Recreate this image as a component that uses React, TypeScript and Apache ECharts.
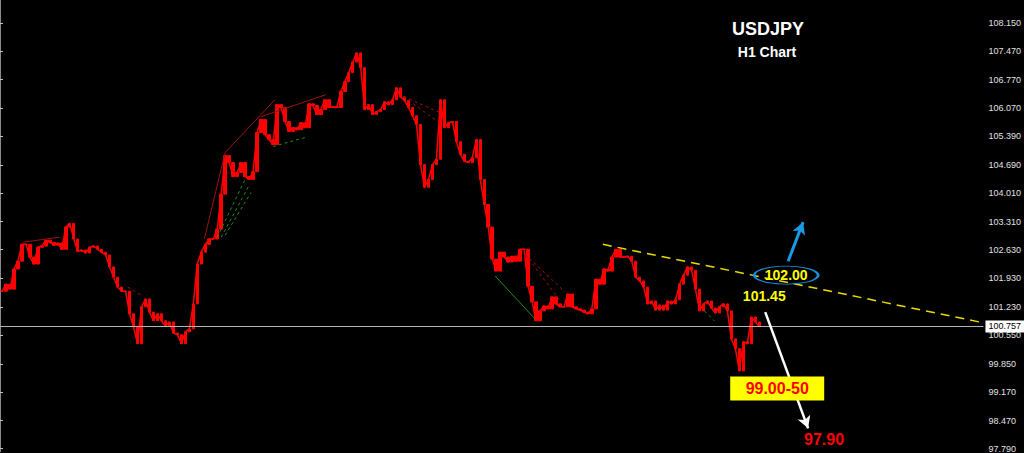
import React, { useEffect, useRef } from "react";
import * as echarts from "echarts";

// Right-axis tick labels (price)
const priceTicks = [108.15, 107.47, 106.77, 106.07, 105.39, 104.69, 104.01, 103.31, 102.63, 101.93, 101.23, 100.55, 99.85, 99.17, 98.47, 97.79];

// USDJPY H1 closes, one value per ~4 bars
const closes = [
  101.62, 101.79, 101.67, 102.16, 102.35, 102.76, 102.76, 102.45, 102.28, 102.69,
  102.72, 102.86, 102.81, 102.74, 102.79, 102.64, 103.18, 103.27, 102.89, 102.59,
  102.62, 102.55, 102.69, 102.72, 102.64, 102.57, 102.5, 102.21, 101.96, 101.72,
  101.62, 101.62, 101.07, 100.75, 100.34, 101.24, 101.43, 101.11, 100.9, 101.07,
  100.9, 100.77, 100.87, 100.6, 100.56, 100.34, 100.63, 100.7, 101.31, 102.28,
  102.57, 102.76, 102.89, 102.89, 103.13, 103.98, 104.92, 104.75, 104.41, 104.51,
  104.75, 104.41, 104.34, 104.53, 105.48, 105.8, 105.43, 105.31, 105.19, 106.16,
  106.09, 105.75, 105.51, 105.6, 105.55, 105.72, 105.6, 106.18, 106.14, 105.92,
  106.04, 106.28, 106.09, 106.11, 106.09, 106.48, 106.72, 106.94, 107.2, 107.42,
  107.06, 106.04, 106.16, 105.92, 105.99, 106.04, 106.23, 106.16, 106.28, 106.57,
  106.35, 106.26, 106.09, 105.89, 105.68, 104.7, 104.15, 104.34, 104.7, 104.83,
  106.28, 105.6, 105.72, 105.75, 105.26, 104.95, 104.78, 104.75, 104.87, 105.31,
  104.34, 103.73, 103.18, 102.4, 102.11, 102.57, 102.45, 102.33, 102.47, 102.35,
  102.64, 102.64, 101.74, 101.36, 100.9, 101.14, 101.26, 101.19, 101.48, 101.31,
  101.24, 101.24, 101.55, 101.24, 101.19, 101.16, 101.11, 101.07, 101.19, 101.91,
  101.79, 102.16, 102.11, 102.45, 102.64, 102.45, 102.45, 102.47, 102.35, 101.96,
  101.87, 101.72, 101.31, 101.38, 101.16, 101.28, 101.16, 101.38, 101.31, 101.41,
  101.79, 102.01, 102.21, 102.13, 101.67, 101.14, 101.31, 101.38, 101.21, 101.09,
  101.24, 101.31, 101.14, 100.46, 100.22, 99.68, 100.39, 100.34, 100.99, 100.87,
  100.757,
];

const lastPrice = 100.757;
const axisMin = 97.717;
const axisMax = 108.708;
const barSpan = 246.75; // width of the visible window in 4-bar units

// Annotation segments as [bar, price] pairs
const resistance = [[151.25, 102.76], [246.75, 100.85]];
const upArrow = [[197.75, 102.35], [201.5, 103.3]];
const downArrow = [[192, 101.11], [202.75, 98.28]];
const zigzagSolid = [
  [[51.25, 102.885], [56.5, 104.996]],
  [[56.5, 104.996], [69, 106.282]],
  [[65.5, 105.869], [81.75, 106.403]],
  [[5.75, 102.812], [15, 102.934]],
];
const zigzagDashedRed = [
  [[101.25, 106.355], [110.5, 105.966]],
  [[101.25, 106.355], [110.5, 105.7]],
  [[131.75, 102.521], [141.75, 101.599]],
  [[131.75, 102.521], [140.75, 101.357]],
  [[32, 101.721], [35.75, 101.502]],
];
const zigzagDashedGreen = [
  [[54.5, 102.934], [61.5, 104.341]],
  [[55.5, 102.934], [62.5, 104.195]],
  [[56.5, 102.982], [63, 104.025]],
  [[68.5, 105.142], [76.5, 105.36]],
  [[176.75, 101.138], [179.25, 100.896]],
];
const zigzagSolidGreen = [[[124.25, 101.987], [134.25, 100.944]]];

const label10145 = [191.75, 101.5];
const label10200 = [197.25, 102.01];
const label9900 = [195, 99.25];
const label9790 = [206.75, 98.01];

const seg = (s: number[][]) => [{ coord: s[0] }, { coord: s[1] }];

export default function App() {
  const ref = useRef<HTMLDivElement>(null);
  useEffect(() => {
    if (!ref.current) return;
    const chart = echarts.init(ref.current, null, { renderer: "svg" });
    const seriesData = closes.map((v, i) => [i + 0.5, v]);
    // bars spanning from previous close to current close (MT4-style dense bars)
    const barData = closes.map((v, i) => {
      const o = i === 0 ? v : closes[i - 1];
      return [i + 0.5, o, v, Math.min(o, v), Math.max(o, v)];
    });
    const boldFont = "Liberation Sans";
    chart.setOption({
      animation: false,
      backgroundColor: "#000000",
      grid: { left: 0, right: 37, top: 0, bottom: 0 },
      xAxis: { type: "value", min: 0, max: barSpan, show: false },
      yAxis: {
        type: "value",
        position: "right",
        min: axisMin,
        max: axisMax,
        splitLine: { show: false },
        axisLine: { show: true, lineStyle: { color: "#8a8a8a", width: 1 } },
        axisTick: { show: true, inside: false, length: 3, customValues: priceTicks, lineStyle: { color: "#c0c0c0" } },
        axisLabel: {
          customValues: priceTicks,
          formatter: (v: number) => v.toFixed(3),
          color: "#e0e0e0",
          fontSize: 9,
          fontFamily: "Liberation Sans",
          margin: 5,
        },
      },
      graphic: [
        {
          type: "text",
          x: 768,
          y: 29,
          style: { text: "USDJPY", fill: "#ffffff", font: `bold 18px '${boldFont}'`, textAlign: "center", textVerticalAlign: "middle" },
        },
        {
          type: "text",
          x: 767,
          y: 52,
          style: { text: "H1 Chart", fill: "#ffffff", font: `bold 14px '${boldFont}'`, textAlign: "center", textVerticalAlign: "middle" },
        },
      ],
      series: [
        {
          type: "candlestick",
          data: barData,
          encode: { x: 0, y: [1, 2, 3, 4] },
          barWidth: 3,
          silent: true,
          z: 3,
          itemStyle: { color: "#ff0000", color0: "#ff0000", borderColor: "#ff0000", borderColor0: "#ff0000", borderWidth: 1 },
        },
        {
          type: "line",
          data: seriesData,
          showSymbol: false,
          lineStyle: { color: "#ff0000", width: 1.5 },
          silent: true,
          z: 3,
          markLine: {
            silent: true,
            symbol: ["none", "none"],
            data: [
              {
                yAxis: lastPrice,
                lineStyle: { color: "#b4b4b4", width: 1, type: "solid" },
                label: {
                  show: true,
                  position: "end",
                  formatter: "100.757",
                  backgroundColor: "#ffffff",
                  color: "#000000",
                  fontSize: 9,
                  fontFamily: "Liberation Sans",
                  padding: [2, 3, 1, 3],
                  distance: 2,
                },
              },
            ],
          },
        },
        {
          type: "line",
          data: [],
          silent: true,
          z: 2,
          markLine: {
            silent: true,
            symbol: ["none", "none"],
            label: { show: false },
            lineStyle: { color: "#a00f0f", width: 1, type: "solid" },
            data: zigzagSolid.map(seg),
          },
        },
        {
          type: "line",
          data: [],
          silent: true,
          z: 2,
          markLine: {
            silent: true,
            symbol: ["none", "none"],
            label: { show: false },
            lineStyle: { color: "#a00f0f", width: 1, type: [3, 3] },
            data: zigzagDashedRed.map(seg),
          },
        },
        {
          type: "line",
          data: [],
          silent: true,
          z: 2,
          markLine: {
            silent: true,
            symbol: ["none", "none"],
            label: { show: false },
            lineStyle: { color: "#1e8c1e", width: 1, type: [3, 3] },
            data: zigzagDashedGreen.map(seg),
          },
        },
        {
          type: "line",
          data: [],
          silent: true,
          z: 2,
          markLine: {
            silent: true,
            symbol: ["none", "none"],
            label: { show: false },
            lineStyle: { color: "#1e8c1e", width: 1, type: "solid" },
            data: zigzagSolidGreen.map(seg),
          },
        },
        {
          type: "line",
          data: [],
          silent: true,
          z: 4,
          markLine: {
            silent: true,
            symbol: ["none", "none"],
            label: { show: false },
            lineStyle: { color: "#e8dc00", width: 1.5, type: [9, 6] },
            data: [seg(resistance)],
          },
        },
        {
          type: "line",
          data: [],
          silent: true,
          z: 5,
          markLine: {
            silent: true,
            symbol: ["none", "arrow"],
            symbolSize: [10, 12],
            label: { show: false },
            data: [
              [
                { coord: upArrow[0], lineStyle: { color: "#1a9be6", width: 3, type: "solid" } },
                { coord: upArrow[1] },
              ],
              [
                { coord: downArrow[0], lineStyle: { color: "#ffffff", width: 2.5, type: "solid" } },
                { coord: downArrow[1] },
              ],
            ],
          },
          markPoint: {
            silent: true,
            data: [
              {
                coord: label10200,
                symbol: "circle",
                symbolSize: [64, 18],
                itemStyle: { color: "rgba(0,0,0,0)", borderColor: "#1a8fd6", borderWidth: 1.5 },
                label: { show: true, position: "inside", formatter: "102.00", color: "#ffff00", fontSize: 14, fontWeight: "bold", fontFamily: boldFont },
              },
              {
                coord: label9900,
                symbol: "rect",
                symbolSize: [94, 24],
                itemStyle: { color: "#ffff00" },
                label: { show: true, position: "inside", formatter: "99.00-50", color: "#ff0000", fontSize: 16, fontWeight: "bold", fontFamily: boldFont },
              },
              {
                coord: label10145,
                symbol: "rect",
                symbolSize: [46, 16],
                itemStyle: { color: "rgba(0,0,0,0)" },
                label: { show: true, position: "inside", formatter: "101.45", color: "#ffff00", fontSize: 14, fontWeight: "bold", fontFamily: boldFont },
              },
              {
                coord: label9790,
                symbol: "rect",
                symbolSize: [46, 16],
                itemStyle: { color: "rgba(0,0,0,0)" },
                label: { show: true, position: "inside", formatter: "97.90", color: "#ff0000", fontSize: 16, fontWeight: "bold", fontFamily: boldFont },
              },
            ],
          },
        },
      ],
    });
    return () => chart.dispose();
  }, []);
  return (
    <div
      ref={ref}
      style={{ position: "fixed", left: 0, top: 0, width: 1024, height: 453, background: "#000" }}
    />
  );
}
